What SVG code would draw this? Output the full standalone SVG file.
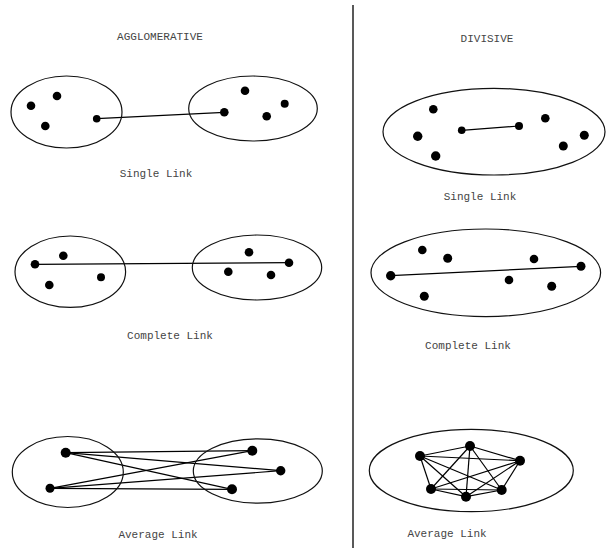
<svg xmlns="http://www.w3.org/2000/svg" width="607" height="550" viewBox="0 0 607 550">
  <style>
    .cluster { fill: none; stroke: #111; stroke-width: 1.2; }
    .pt { fill: #000; }
    .link { stroke: #000; stroke-width: 1.2; fill: none; }
    .lbl { font-family: "Liberation Mono", "DejaVu Sans Mono", monospace; font-size: 11px; fill: #444; text-anchor: middle; }
    .divider { stroke: #222; stroke-width: 1.5; }
  </style>
  <rect width="607" height="550" fill="#fff"/>

  <!-- headings and divider -->
  <text class="lbl" x="160" y="40">AGGLOMERATIVE</text>
  <text class="lbl" x="487" y="42">DIVISIVE</text>
  <line class="divider" x1="353" y1="5" x2="353" y2="548"/>

  <!-- connectors -->
  <g id="connectors">
    <!-- agglomerative single link -->
    <line class="link" x1="96.7" y1="118.7" x2="224.3" y2="112.3"/>
    <!-- agglomerative complete link -->
    <line class="link" x1="35" y1="264.3" x2="289" y2="262.7"/>
    <!-- agglomerative average link -->
    <line class="link" x1="65.7" y1="452.7" x2="252.3" y2="450.7"/>
    <line class="link" x1="65.7" y1="452.7" x2="280.7" y2="470.7"/>
    <line class="link" x1="65.7" y1="452.7" x2="232" y2="489.3"/>
    <line class="link" x1="50" y1="488.3" x2="252.3" y2="450.7"/>
    <line class="link" x1="50" y1="488.3" x2="280.7" y2="470.7"/>
    <line class="link" x1="50" y1="488.3" x2="232" y2="489.3"/>
    <!-- divisive single link -->
    <line class="link" x1="461.7" y1="130.3" x2="519" y2="126"/>
    <!-- divisive complete link -->
    <line class="link" x1="390.7" y1="275.7" x2="581" y2="266.3"/>
    <!-- divisive average link: all pairs -->
    <line class="link" x1="420" y1="456" x2="470" y2="446"/>
    <line class="link" x1="420" y1="456" x2="520" y2="460.7"/>
    <line class="link" x1="420" y1="456" x2="501.7" y2="490"/>
    <line class="link" x1="420" y1="456" x2="466" y2="496.7"/>
    <line class="link" x1="420" y1="456" x2="431" y2="489"/>
    <line class="link" x1="470" y1="446" x2="520" y2="460.7"/>
    <line class="link" x1="470" y1="446" x2="501.7" y2="490"/>
    <line class="link" x1="470" y1="446" x2="466" y2="496.7"/>
    <line class="link" x1="470" y1="446" x2="431" y2="489"/>
    <line class="link" x1="520" y1="460.7" x2="501.7" y2="490"/>
    <line class="link" x1="520" y1="460.7" x2="466" y2="496.7"/>
    <line class="link" x1="520" y1="460.7" x2="431" y2="489"/>
    <line class="link" x1="501.7" y1="490" x2="466" y2="496.7"/>
    <line class="link" x1="501.7" y1="490" x2="431" y2="489"/>
    <line class="link" x1="466" y1="496.7" x2="431" y2="489"/>
  </g>

  <!-- agglomerative: single link -->
  <g id="agg-single-a">
    <ellipse class="cluster" cx="66.5" cy="112" rx="55.5" ry="36"/>
    <circle class="pt" cx="31" cy="105.7" r="4.3"/>
    <circle class="pt" cx="57" cy="96" r="4.3"/>
    <circle class="pt" cx="45.3" cy="126" r="4.3"/>
    <circle class="pt" cx="96.7" cy="118.7" r="3.8"/>
  </g>
  <g id="agg-single-b">
    <ellipse class="cluster" cx="253" cy="108.5" rx="64.3" ry="32.5"/>
    <circle class="pt" cx="245" cy="90.7" r="4.3"/>
    <circle class="pt" cx="284.7" cy="103.7" r="4"/>
    <circle class="pt" cx="266.7" cy="116.3" r="4.3"/>
    <circle class="pt" cx="224.3" cy="112.3" r="4.3"/>
  </g>
  <text class="lbl" x="156" y="177">Single Link</text>

  <!-- agglomerative: complete link -->
  <g id="agg-complete-a">
    <ellipse class="cluster" cx="70.3" cy="271.7" rx="55.3" ry="35.7"/>
    <circle class="pt" cx="35" cy="264.3" r="4.3"/>
    <circle class="pt" cx="63.3" cy="255.7" r="4.3"/>
    <circle class="pt" cx="49.3" cy="285" r="4.3"/>
    <circle class="pt" cx="101" cy="277.3" r="4"/>
  </g>
  <g id="agg-complete-b">
    <ellipse class="cluster" cx="257" cy="267.5" rx="64.7" ry="32.5"/>
    <circle class="pt" cx="249" cy="252.3" r="4.3"/>
    <circle class="pt" cx="228.3" cy="271.7" r="4.3"/>
    <circle class="pt" cx="271" cy="275" r="4.3"/>
    <circle class="pt" cx="289" cy="262.7" r="4.3"/>
  </g>
  <text class="lbl" x="170" y="339">Complete Link</text>

  <!-- agglomerative: average link -->
  <g id="agg-average-a">
    <ellipse class="cluster" cx="67.8" cy="472" rx="55.5" ry="35.5"/>
    <circle class="pt" cx="65.7" cy="452.7" r="5"/>
    <circle class="pt" cx="50" cy="488.3" r="4.5"/>
  </g>
  <g id="agg-average-b">
    <ellipse class="cluster" cx="257.8" cy="471" rx="64.5" ry="32.2"/>
    <circle class="pt" cx="252.3" cy="450.7" r="5"/>
    <circle class="pt" cx="280.7" cy="470.7" r="4.7"/>
    <circle class="pt" cx="232" cy="489.3" r="5"/>
  </g>
  <text class="lbl" x="158" y="538">Average Link</text>

  <!-- divisive: single link -->
  <g id="div-single">
    <ellipse class="cluster" cx="494" cy="131.7" rx="111" ry="43.3"/>
    <circle class="pt" cx="433.3" cy="109.3" r="4.3"/>
    <circle class="pt" cx="417.7" cy="136.3" r="4.7"/>
    <circle class="pt" cx="435.7" cy="156" r="4.7"/>
    <circle class="pt" cx="461.7" cy="130.3" r="3.8"/>
    <circle class="pt" cx="519" cy="126" r="4"/>
    <circle class="pt" cx="545.3" cy="118.3" r="4.3"/>
    <circle class="pt" cx="584.3" cy="135.3" r="4.5"/>
    <circle class="pt" cx="563.3" cy="146" r="4.5"/>
  </g>
  <text class="lbl" x="480" y="200">Single Link</text>

  <!-- divisive: complete link -->
  <g id="div-complete">
    <ellipse class="cluster" cx="485.8" cy="272.8" rx="114.8" ry="43.8"/>
    <circle class="pt" cx="422.3" cy="250" r="4.3"/>
    <circle class="pt" cx="447.7" cy="258.3" r="4.5"/>
    <circle class="pt" cx="390.7" cy="275.7" r="4.7"/>
    <circle class="pt" cx="424.3" cy="296.3" r="4.5"/>
    <circle class="pt" cx="534" cy="259" r="4.3"/>
    <circle class="pt" cx="509" cy="280" r="4.3"/>
    <circle class="pt" cx="551.7" cy="286.3" r="4.5"/>
    <circle class="pt" cx="581" cy="266.3" r="4.5"/>
  </g>
  <text class="lbl" x="468" y="349">Complete Link</text>

  <!-- divisive: average link -->
  <g id="div-average">
    <ellipse class="cluster" cx="471.3" cy="470.5" rx="102" ry="41.2"/>
    <circle class="pt" cx="420" cy="456" r="5"/>
    <circle class="pt" cx="470" cy="446" r="5"/>
    <circle class="pt" cx="520" cy="460.7" r="5"/>
    <circle class="pt" cx="501.7" cy="490" r="5"/>
    <circle class="pt" cx="466" cy="496.7" r="5"/>
    <circle class="pt" cx="431" cy="489" r="5"/>
  </g>
  <text class="lbl" x="447" y="537">Average Link</text>
</svg>
